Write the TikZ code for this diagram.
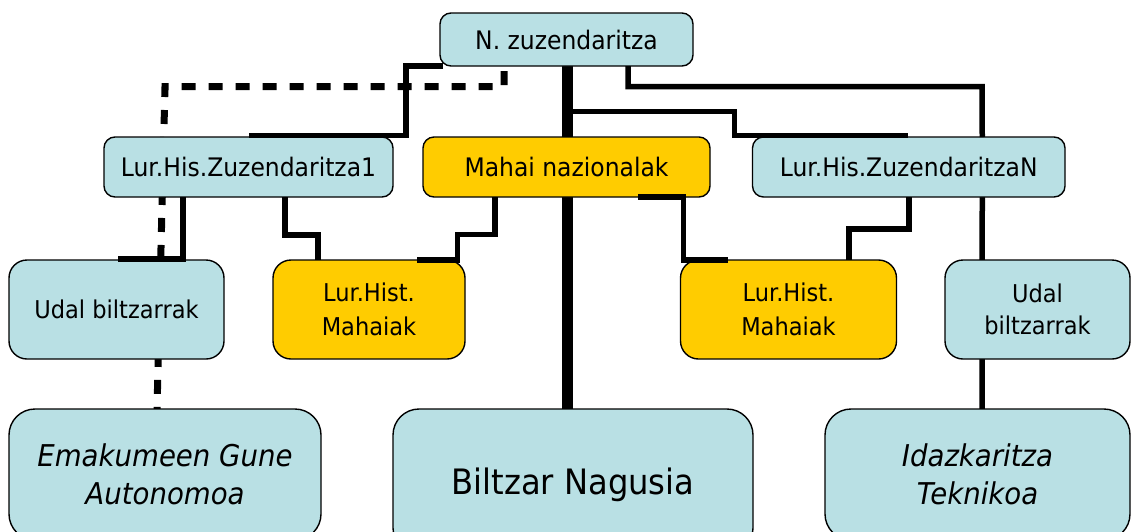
\documentclass[tikz,border=0pt]{standalone}
\usepackage{fontspec}
\setmainfont{DejaVu Sans}[FakeStretch=0.92]
\usetikzlibrary{calc,backgrounds}
\definecolor{boxblue}{RGB}{185,224,228}
\definecolor{boxyellow}{RGB}{255,204,0}
\tikzset{
  box/.style={draw=black, line width=1.4pt, align=center, inner sep=0pt, outer sep=0pt, anchor=north west},
  topbox/.style={box, rounded corners=11pt, minimum height=60pt, font=\fontsize{25.5}{34}\selectfont},
  midbox/.style={box, rounded corners=18pt, minimum height=99pt, font=\fontsize{24.5}{33}\selectfont},
  lowbox/.style={box, rounded corners=26pt, minimum height=131pt, font=\fontsize{30}{38}\selectfont\itshape},
  conn/.style={line width=5.5pt, line cap=butt, line join=miter},
  trunk/.style={line width=11pt},
  dashline/.style={line width=7pt, dash pattern=on 14pt off 13pt}
}
\begin{document}
\begin{tikzpicture}[x=1pt,y=-1pt]
\useasboundingbox (0,0) rectangle (1131,531);

% boxes
\node[topbox, fill=boxblue, minimum width=253pt, minimum height=53pt] (N) at (440,13) {N. zuzendaritza};
\node[topbox, fill=boxblue, minimum width=289pt] (L1) at (104,137) {Lur.His.Zuzendaritza1};
\node[topbox, fill=boxyellow, minimum width=287pt] (M) at (423,137) {Mahai nazionalak};
\node[topbox, fill=boxblue, minimum width=312.5pt] (LN) at (752.5,137) {Lur.His.ZuzendaritzaN};
\node[midbox, fill=boxblue, minimum width=215pt] (UL) at (9,260) {Udal biltzarrak};
\node[midbox, fill=boxyellow, minimum width=192pt, font=\fontsize{24.5}{34}\selectfont] (ML) at (273,260) {Lur.Hist.\\Mahaiak};
\node[midbox, fill=boxyellow, minimum width=216pt, font=\fontsize{24.5}{34}\selectfont] (MR) at (680.5,260) {Lur.Hist.\\Mahaiak};
\node[midbox, fill=boxblue, minimum width=185pt, font=\fontsize{24.5}{32}\selectfont] (UR) at (945,260) {Udal\\biltzarrak};
\node[lowbox, fill=boxblue, minimum width=312pt] (EG) at (9,409) {Emakumeen Gune\\Autonomoa};
\node[lowbox, fill=boxblue, minimum width=360pt, minimum height=145pt, font=\fontsize{35}{40}\selectfont, text depth=0pt] (BN) at (393,409) {Biltzar Nagusia};
\node[lowbox, fill=boxblue, minimum width=305pt] (IT) at (825,409) {Idazkaritza\\Teknikoa};

% connectors hidden behind the boxes
\begin{scope}[on background layer]
  % dashed link N -> Emakumeen Gune
  \draw[dashline] ([xshift=64pt,yshift=-5pt]N.south west) |- (165,86.5) -- ([xshift=-8pt]EG.north);
  % main trunk N -> Biltzar Nagusia
  \draw[trunk] ([xshift=0.5pt]N.south) -- ([xshift=-6pt]BN.north);
  % Lur.His.ZuzendaritzaN -> Udal -> Idazkaritza
  \draw[conn] ([xshift=73.5pt]LN.south) -- ([xshift=4.5pt]IT.north);
\end{scope}

% connectors on top
\draw[conn] ([xshift=3pt]N.south west) -- (406,66) |- ([yshift=1.5pt]L1.north);
\draw[conn] ([xshift=61.5pt]N.south) |- (982,86.5) -- ([xshift=73.5pt]LN.north);
\draw[conn] ([xshift=0.5pt,yshift=-45.5pt]N.south) -- (734.5,111.5) |- ([xshift=-0.75pt,yshift=1.5pt]LN.north);
\draw[conn] ([xshift=-72pt]M.south east) -- (683.5,197) |- ([xshift=47.5pt]MR.north west);
\draw[conn] ([xshift=0.25pt]LN.south) -- (909,229) -| ([xshift=60.5pt]MR.north);
\draw[conn] ([xshift=-65.5pt]L1.south) |- ([xshift=1.5pt,yshift=1pt]UL.north);
\draw[conn] ([xshift=36.5pt]L1.south) -- (285,235) -| ([xshift=-51pt]ML.north);
\draw[conn] ([xshift=-71.5pt]M.south) -- (495,234.5) -| (457.5,260) -- ([xshift=-48pt]ML.north east);
\end{tikzpicture}
\end{document}
